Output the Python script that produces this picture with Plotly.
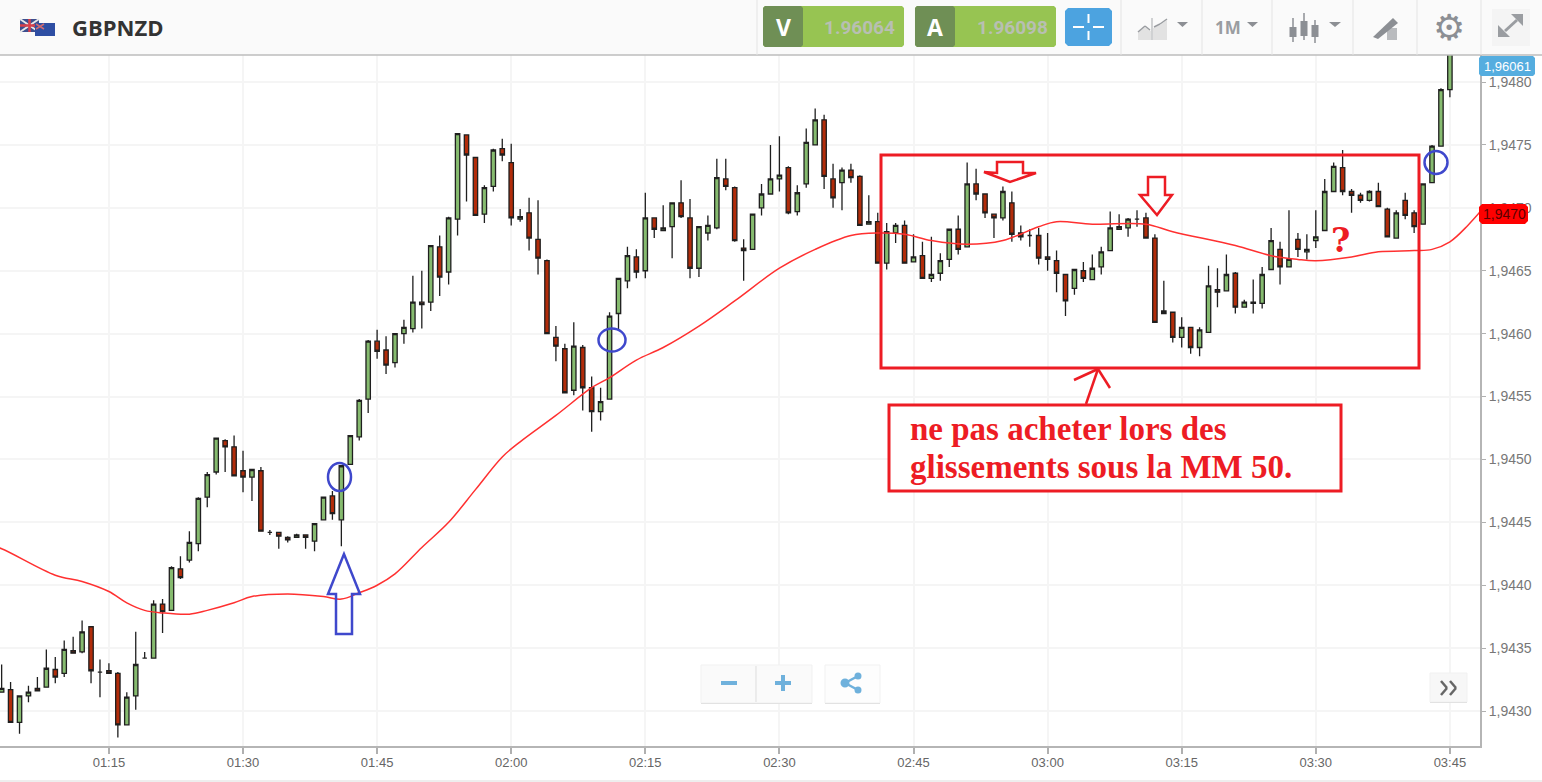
import pandas as pd
import plotly.graph_objects as go

# M1 candles, first one is 01:03
opens = [1.94315,1.94317,1.94291,1.94312,1.94318,1.94319,1.94333,1.94330,1.94348,1.94347,
         1.94367,1.94331,1.94332,1.94330,1.94289,1.94312,1.94342,1.94342,1.94385,1.94380,
         1.94413,1.94420,1.94433,1.94470,1.94490,1.94515,1.94510,1.94491,1.94486,1.94491,
         1.94442,1.94442,1.94438,1.94438,1.94440,1.94435,1.94452,1.94471,1.94452,1.94496,
         1.94518,1.94548,1.94594,1.94587,1.94577,1.94600,1.94604,1.94625,1.94625,1.94669,
         1.94649,1.94691,1.94758,1.94740,1.94695,1.94717,1.94747,1.94736,1.94691,1.94696,
         1.94675,1.94658,1.94597,1.94588,1.94555,1.94589,1.94557,1.94538,1.94548,1.94616,
         1.94642,1.94661,1.94650,1.94692,1.94682,1.94685,1.94704,1.94692,1.94652,1.94680,
         1.94684,1.94723,1.94716,1.94668,1.94667,1.94700,1.94711,1.94723,1.94732,1.94697,
         1.94719,1.94750,1.94770,1.94723,1.94720,1.94730,1.94725,1.94687,1.94689,1.94656,
         1.94680,1.94686,1.94657,1.94662,1.94644,1.94648,1.94659,1.94683,1.94669,1.94719,
         1.94711,1.94695,1.94692,1.94704,1.94680,1.94678,1.94678,1.94661,1.94658,1.94647,
         1.94636,1.94650,1.94643,1.94653,1.94666,1.94683,1.94684,1.94691,1.94692,1.94676,
         1.94616,1.94617,1.94597,1.94605,1.94589,1.94601,1.94635,1.94634,1.94648,1.94621,
         1.94625,1.94624,1.94651,1.94667,1.94653,1.94675,1.94665,1.94674,1.94682,1.94713,
         1.94732,1.94713,1.94710,1.94706,1.94713,1.94699,1.94676,1.94706,1.94696,1.94687,
         1.94720,1.94749,1.94794]
highs = [1.94337,1.94323,1.94312,1.94320,1.94327,1.94349,1.94343,1.94356,1.94359,1.94372,
         1.94367,1.94341,1.94338,1.94331,1.94315,1.94363,1.94347,1.94388,1.94389,1.94415,
         1.94423,1.94443,1.94470,1.94490,1.94517,1.94516,1.94519,1.94507,1.94492,1.94494,
         1.94444,1.94442,1.94439,1.94441,1.94440,1.94449,1.94470,1.94475,1.94495,1.94519,
         1.94548,1.94595,1.94603,1.94598,1.94600,1.94611,1.94646,1.94650,1.94670,1.94678,
         1.94693,1.94759,1.94758,1.94740,1.94718,1.94747,1.94755,1.94751,1.94699,1.94708,
         1.94706,1.94659,1.94606,1.94592,1.94609,1.94591,1.94566,1.94557,1.94617,1.94644,
         1.94669,1.94667,1.94712,1.94692,1.94702,1.94704,1.94722,1.94707,1.94685,1.94694,
         1.94739,1.94739,1.94717,1.94675,1.94695,1.94719,1.94750,1.94757,1.94733,1.94718,
         1.94763,1.94779,1.94774,1.94735,1.94732,1.94735,1.94726,1.94710,1.94696,1.94688,
         1.94688,1.94690,1.94679,1.94673,1.94677,1.94664,1.94683,1.94694,1.94736,1.94731,
         1.94711,1.94695,1.94717,1.94713,1.94686,1.94683,1.94684,1.94680,1.94666,1.94647,
         1.94651,1.94657,1.94663,1.94669,1.94697,1.94695,1.94692,1.94698,1.94696,1.94679,
         1.94642,1.94617,1.94613,1.94605,1.94605,1.94654,1.94652,1.94663,1.94649,1.94627,
         1.94643,1.94653,1.94684,1.94673,1.94698,1.94680,1.94679,1.94698,1.94723,1.94736,
         1.94746,1.94715,1.94712,1.94714,1.94720,1.94700,1.94698,1.94712,1.94698,1.94719,
         1.94750,1.94795,1.94835]
lows = [1.94315,1.94291,1.94282,1.94307,1.94316,1.94319,1.94322,1.94327,1.94346,1.94346,
        1.94322,1.94311,1.94330,1.94279,1.94289,1.94301,1.94342,1.94342,1.94362,1.94380,
        1.94405,1.94418,1.94427,1.94462,1.94488,1.94490,1.94487,1.94474,1.94467,1.94443,
        1.94440,1.94429,1.94434,1.94438,1.94429,1.94427,1.94452,1.94452,1.94431,1.94496,
        1.94515,1.94537,1.94580,1.94568,1.94573,1.94592,1.94601,1.94604,1.94618,1.94630,
        1.94639,1.94678,1.94705,1.94694,1.94688,1.94713,1.94737,1.94686,1.94689,1.94666,
        1.94647,1.94600,1.94578,1.94553,1.94551,1.94539,1.94522,1.94531,1.94548,1.94603,
        1.94636,1.94644,1.94644,1.94676,1.94682,1.94660,1.94692,1.94644,1.94645,1.94674,
        1.94683,1.94714,1.94673,1.94642,1.94667,1.94694,1.94711,1.94713,1.94695,1.94694,
        1.94716,1.94750,1.94715,1.94700,1.94698,1.94720,1.94686,1.94687,1.94656,1.94651,
        1.94672,1.94656,1.94657,1.94644,1.94641,1.94642,1.94653,1.94663,1.94669,1.94706,
        1.94692,1.94676,1.94690,1.94673,1.94674,1.94669,1.94655,1.94650,1.94633,1.94614,
        1.94631,1.94641,1.94643,1.94647,1.94666,1.94683,1.94677,1.94685,1.94676,1.94609,
        1.94616,1.94593,1.94589,1.94584,1.94582,1.94601,1.94621,1.94634,1.94616,1.94621,
        1.94616,1.94620,1.94651,1.94639,1.94653,1.94661,1.94659,1.94668,1.94682,1.94713,
        1.94710,1.94696,1.94704,1.94705,1.94701,1.94677,1.94676,1.94691,1.94680,1.94687,
        1.94720,1.94749,1.94788]
closes = [1.94318,1.94291,1.94312,1.94315,1.94316,1.94334,1.94327,1.94349,1.94346,1.94363,
          1.94332,1.94331,1.94330,1.94289,1.94311,1.94337,1.94342,1.94385,1.94379,1.94414,
          1.94406,1.94434,1.94469,1.94488,1.94517,1.94510,1.94487,1.94486,1.94492,1.94443,
          1.94442,1.94439,1.94436,1.94440,1.94438,1.94449,1.94470,1.94457,1.94495,1.94519,
          1.94547,1.94594,1.94586,1.94575,1.94600,1.94605,1.94625,1.94623,1.94670,1.94645,
          1.94692,1.94759,1.94742,1.94694,1.94716,1.94746,1.94742,1.94692,1.94693,1.94676,
          1.94660,1.94600,1.94590,1.94553,1.94590,1.94557,1.94538,1.94546,1.94614,1.94644,
          1.94662,1.94649,1.94692,1.94683,1.94684,1.94704,1.94693,1.94652,1.94685,1.94686,
          1.94724,1.94717,1.94674,1.94666,1.94695,1.94711,1.94723,1.94726,1.94696,1.94712,
          1.94752,1.94770,1.94725,1.94708,1.94730,1.94724,1.94686,1.94689,1.94656,1.94681,
          1.94686,1.94656,1.94661,1.94644,1.94647,1.94658,1.94683,1.94667,1.94719,1.94711,
          1.94696,1.94692,1.94713,1.94679,1.94677,1.94678,1.94660,1.94659,1.94648,1.94626,
          1.94651,1.94644,1.94652,1.94665,1.94684,1.94685,1.94691,1.94691,1.94676,1.94609,
          1.94618,1.94597,1.94605,1.94589,1.94603,1.94638,1.94633,1.94647,1.94621,1.94625,
          1.94624,1.94647,1.94674,1.94653,1.94659,1.94667,1.94667,1.94677,1.94713,1.94733,
          1.94713,1.94710,1.94706,1.94713,1.94701,1.94677,1.94696,1.94694,1.94685,1.94719,
          1.94749,1.94794,1.94835]

ma_times = ["01:02","01:03","01:09","01:12","01:15","01:17","01:19","01:21","01:24","01:26","01:29",
            "01:31","01:35","01:39","01:41","01:43","01:45","01:47","01:50","01:53","01:56",
            "01:59","02:01","02:05","02:09","02:11","02:14","02:17","02:21","02:25","02:30",
            "02:34","02:38","02:41","02:44","02:47","02:51","02:55","02:59","03:01","03:05",
            "03:11","03:14","03:21","03:25","03:28","03:30","03:34","03:37","03:41","03:43",
            "03:45","03:47","03:49"]
ma_values = [1.94431,1.94429,1.94408,1.94403,1.94395,1.94386,1.94380,1.94378,1.94377,1.94380,1.94386,
             1.94391,1.94393,1.94391,1.94389,1.94394,1.94400,1.94409,1.94430,1.94450,1.94476,
             1.94502,1.94514,1.94535,1.94557,1.94565,1.94579,1.94589,1.94606,1.94626,1.94652,
             1.94667,1.94678,1.94680,1.94679,1.94674,1.94671,1.94674,1.94685,1.94689,1.94687,
             1.94687,1.94681,1.94670,1.94662,1.94659,1.94658,1.94661,1.94665,1.94666,1.94667,
             1.94673,1.94686,1.94702]

minutes = pd.date_range("2017-03-06 01:03", periods=len(opens), freq="min")
ma_x = ["2017-03-06 " + t for t in ma_times]

RED = "#ed1c24"
BLUE = "#3f48cc"
GREY = "#8c8f94"
SKY = "#6fb1dc"

# plot area in page pixels
PL, PR, PT, PB = 0, 1480, 55, 746


def px(x):
    return (x - PL) / (PR - PL)


def py(y):
    return 1 - (y - PT) / (PB - PT)


shapes = []
notes = []


def box(x0, y0, x1, y1, fill=None, line=None, width=1):
    shapes.append(dict(type="rect", xref="paper", yref="paper", x0=px(x0), x1=px(x1), y0=py(y0), y1=py(y1),
                       fillcolor=fill or "rgba(0,0,0,0)", line=dict(color=line or "rgba(0,0,0,0)", width=width if line else 0)))


def seg(x0, y0, x1, y1, color, width=1):
    shapes.append(dict(type="line", xref="paper", yref="paper", x0=px(x0), x1=px(x1), y0=py(y0), y1=py(y1),
                       line=dict(color=color, width=width)))


def poly(points, fill=None, line=None, width=1):
    d = "M " + " L ".join(f"{px(a):.5f},{py(b):.5f}" for a, b in points) + " Z"
    shapes.append(dict(type="path", xref="paper", yref="paper", path=d,
                       fillcolor=fill or "rgba(0,0,0,0)", line=dict(color=line or "rgba(0,0,0,0)", width=width if line else 0)))


def rbox(x0, y0, x1, y1, fill, r=2):
    # rect with cut corners, close enough to the rounded buttons
    poly([(x0 + r, y0), (x1 - r, y0), (x1, y0 + r), (x1, y1 - r), (x1 - r, y1), (x0 + r, y1), (x0, y1 - r), (x0, y0 + r)], fill=fill)


def oval(cx, cy, rx, ry, fill=None, line=None, width=1):
    shapes.append(dict(type="circle", xref="paper", yref="paper", x0=px(cx - rx), x1=px(cx + rx), y0=py(cy - ry), y1=py(cy + ry),
                       fillcolor=fill or "rgba(0,0,0,0)", line=dict(color=line or "rgba(0,0,0,0)", width=width if line else 0)))


def label(x, y, text, size, color, family="Liberation Sans", anchor="left"):
    notes.append(dict(xref="paper", yref="paper", x=px(x), y=py(y), text=text, showarrow=False, xanchor=anchor, yanchor="middle",
                      font=dict(size=size, color=color, family=family), borderpad=0, borderwidth=0))


# --- top toolbar
box(0, 0, 1542, 55, fill="#fafafa")
seg(0, 55, 1542, 55, "#bdbdbd", 1.5)
for sx in [757, 1121, 1202, 1272, 1353, 1417, 1481]:
    seg(sx, 0, sx, 55, "#e4e4e4", 1)

# flags
box(20, 19, 39, 32, fill="#3d4f8e")
seg(20, 19, 39, 32, "#e8e8e8", 2)
seg(39, 19, 20, 32, "#e8e8e8", 2)
seg(29.5, 19, 29.5, 32, "#d8404a", 2.5)
seg(20, 25.5, 39, 25.5, "#d8404a", 2.5)
box(35, 23, 55, 36, fill="#2e4ea3")
seg(36, 24, 44, 29, "#d06a70", 1.5)
seg(44, 24, 36, 29, "#d06a70", 1.5)
label(72, 27, "<b>GBPNZD</b>", 22, "#333333", "Open Sans")

# sell / buy boxes
for x0, letter, quote in [(763, "V", "1.96064"), (915, "A", "1.96098")]:
    rbox(x0, 6, x0 + 141, 47, "#97c452")
    rbox(x0, 6, x0 + 40, 47, "#6f8f55")
    label(x0 + 20, 27, f"<b>{letter}</b>", 23, "#ffffff", "Open Sans", "center")
    label(x0 + 97, 27, f"<b>{quote}</b>", 19, "#b8bfb2", "Roboto", "center")

# crosshair button
rbox(1065, 8, 1112, 46, "#4ca3e0", 3)
seg(1088.5, 14, 1088.5, 23, "#ffffff", 2)
seg(1088.5, 31, 1088.5, 40, "#ffffff", 2)
seg(1073, 27, 1084, 27, "#ffffff", 2)
seg(1093, 27, 1104, 27, "#ffffff", 2)

# chart type icon
poly([(1138, 40), (1138, 32), (1145, 27), (1151, 31), (1151, 40)], fill="#e2e2e2")
poly([(1153, 40), (1153, 28), (1160, 25), (1167, 20), (1167, 40)], fill="#e2e2e2")
seg(1152, 18, 1152, 40, "#a5a8ab", 1)
seg(1138, 32, 1145, 26, "#9a9da1", 1.5)
seg(1145, 26, 1150, 30, "#9a9da1", 1.5)
seg(1154, 27, 1160, 24, "#9a9da1", 1.5)
seg(1160, 24, 1167, 19, "#9a9da1", 1.5)
poly([(1177, 22), (1188, 22), (1182.5, 27)], fill=GREY)

label(1228, 28, "<b>1M</b>", 17, "#9a9da1", "Open Sans", "center")
poly([(1247, 22), (1258, 22), (1252.5, 27)], fill=GREY)

# candle icon
for cx, t, b, wt, wb in [(1293, 27, 37, 18, 42), (1304, 21, 36, 13, 40), (1315, 25, 37, 20, 43)]:
    seg(cx, wt, cx, wb, GREY, 1.5)
    box(cx - 3.5, t, cx + 3.5, b, fill=GREY)
poly([(1329, 22), (1341, 22), (1335, 27)], fill=GREY)

# pen icon
box(1387, 28, 1397, 40, fill="#b9bbbe")
poly([(1373, 37), (1393, 18), (1398, 23), (1378, 39)], fill=GREY)
label(1448.5, 28, "⚙", 36, GREY, "DejaVu Sans", "center")

# expand icon
box(1492, 9, 1530, 46, fill="#f4f4f4")
seg(1505, 31, 1517, 20, "#9a9da1", 3)
poly([(1523, 14), (1511, 14), (1523, 26)], fill="#9a9da1")
poly([(1498, 37), (1510, 37), (1498, 25)], fill="#9a9da1")

# --- drawings on the chart
box(881, 155, 1419, 368, line=RED, width=3)
poly([(997, 162), (1023, 162), (1023, 173), (1036, 173), (1010, 182), (984, 172), (997, 173)], line=RED, width=2.5)
poly([(1148, 177), (1165, 177), (1165, 195), (1172, 195), (1157, 215), (1140, 195), (1148, 195)], line=RED, width=2.5)
seg(1098, 369, 1074, 380, RED, 2.5)
seg(1098, 369, 1110, 388, RED, 2.5)
seg(1098, 369, 1086, 404, RED, 2.5)
box(889, 405, 1341, 491, fill="#ffffff", line=RED, width=3)
label(910, 429, "<b>ne pas acheter lors des</b>", 33, RED, "Liberation Serif")
label(910, 467, "<b>glissements sous la MM 50.</b>", 33, RED, "Liberation Serif")
label(1340, 240, "<b>?</b>", 33, RED, "DejaVu Serif", "center")

poly([(344, 554), (328, 594), (336, 594), (336, 634), (352, 634), (352, 594), (360, 594)], line=BLUE, width=2.5)
oval(339.5, 477, 11.5, 14, line=BLUE, width=2.5)
oval(612, 340, 13.5, 11.5, line=BLUE, width=2.5)
oval(1436, 162.5, 11.5, 11.5, line=BLUE, width=2.5)

# --- price tags on the axis
rbox(1479, 56, 1535, 76, "#55addf", 2)
label(1507, 66, "1,96061", 13, "#ffffff", "Liberation Sans", "center")
rbox(1479, 204, 1528, 224, "#ff0000", 3)
label(1504, 214, "1,9470", 14, "#5a0000", "Liberation Sans", "center")

# --- zoom / share buttons
box(701, 665, 812, 703, fill="#fafafa", line="#f1f1f1")
seg(701, 703.5, 812, 703.5, "#e2e2e2", 1)
seg(756, 666, 756, 702, "#dddddd", 1)
seg(721, 683, 737, 683, SKY, 4)
seg(775, 683, 791, 683, SKY, 4)
seg(783, 675, 783, 691, SKY, 4)
box(825, 665, 880, 703, fill="#fdfdfd", line="#f1f1f1")
seg(825, 703.5, 880, 703.5, "#e2e2e2", 1)
seg(845, 683, 858, 676, SKY, 2.5)
seg(845, 683, 858, 690, SKY, 2.5)
oval(845, 683, 4.5, 4.5, fill=SKY)
oval(858, 676, 3.5, 3.5, fill=SKY)
oval(858, 690, 3.5, 3.5, fill=SKY)

box(1430, 673, 1467, 702, fill="#f7f7f7", line="#f1f1f1")
seg(1430, 702.5, 1467, 702.5, "#e2e2e2", 1)
for off in (0, 9):
    seg(1441 + off, 681, 1447 + off, 688, "#666666", 2.5)
    seg(1447 + off, 688, 1441 + off, 695, "#666666", 2.5)

seg(0, 781, 1542, 781, "#dddddd", 1)

fig = go.Figure()
fig.add_trace(go.Candlestick(
    x=minutes, open=opens, high=highs, low=lows, close=closes,
    increasing=dict(line=dict(color="#1f1f1f", width=1.3), fillcolor="#86bb6f"),
    decreasing=dict(line=dict(color="#1f1f1f", width=1.3), fillcolor="#b22c0a"),
    whiskerwidth=0, showlegend=False, hoverinfo="skip",
))
fig.add_trace(go.Scatter(x=ma_x, y=ma_values, mode="lines", line=dict(color="#ff3030", width=1.5, shape="spline", smoothing=1.0),
                         showlegend=False, hoverinfo="skip"))

fig.update_layout(
    width=1542, height=782,
    margin=dict(l=PL, r=1542 - PR, t=PT, b=782 - PB, pad=0),
    paper_bgcolor="#ffffff", plot_bgcolor="#ffffff",
    separators=", ",
    boxgap=0.3,
    shapes=shapes, annotations=notes,
    xaxis=dict(
        type="date", rangeslider=dict(visible=False),
        range=["2017-03-06 01:02:49", "2017-03-06 03:48:22"],
        tick0="2017-03-06 00:00", dtick=900000, tickformat="%H:%M",
        ticks="outside", ticklen=6, tickcolor="#b0b0b0", tickwidth=2, ticklabelstandoff=-3,
        tickfont=dict(size=13, color="#666666", family="Liberation Sans"),
        showgrid=True, gridcolor="#f5f5f5", gridwidth=2, zeroline=False,
        showline=True, linecolor="#b5b5b5", linewidth=2,
    ),
    yaxis=dict(
        side="right", range=[1.942722, 1.948215],
        tick0=1.9430, dtick=0.0005, tickformat=".4f",
        ticks="outside", ticklen=4, tickcolor="#b0b0b0", tickwidth=1,
        tickfont=dict(size=14, color="#777777", family="Liberation Sans"),
        showgrid=True, gridcolor="#f5f5f5", gridwidth=2, zeroline=False,
        showline=True, linecolor="#b5b5b5", linewidth=2,
    ),
)

fig.write_html("out.html", config={"displayModeBar": False}, post_script="document.body.style.margin='0';")
